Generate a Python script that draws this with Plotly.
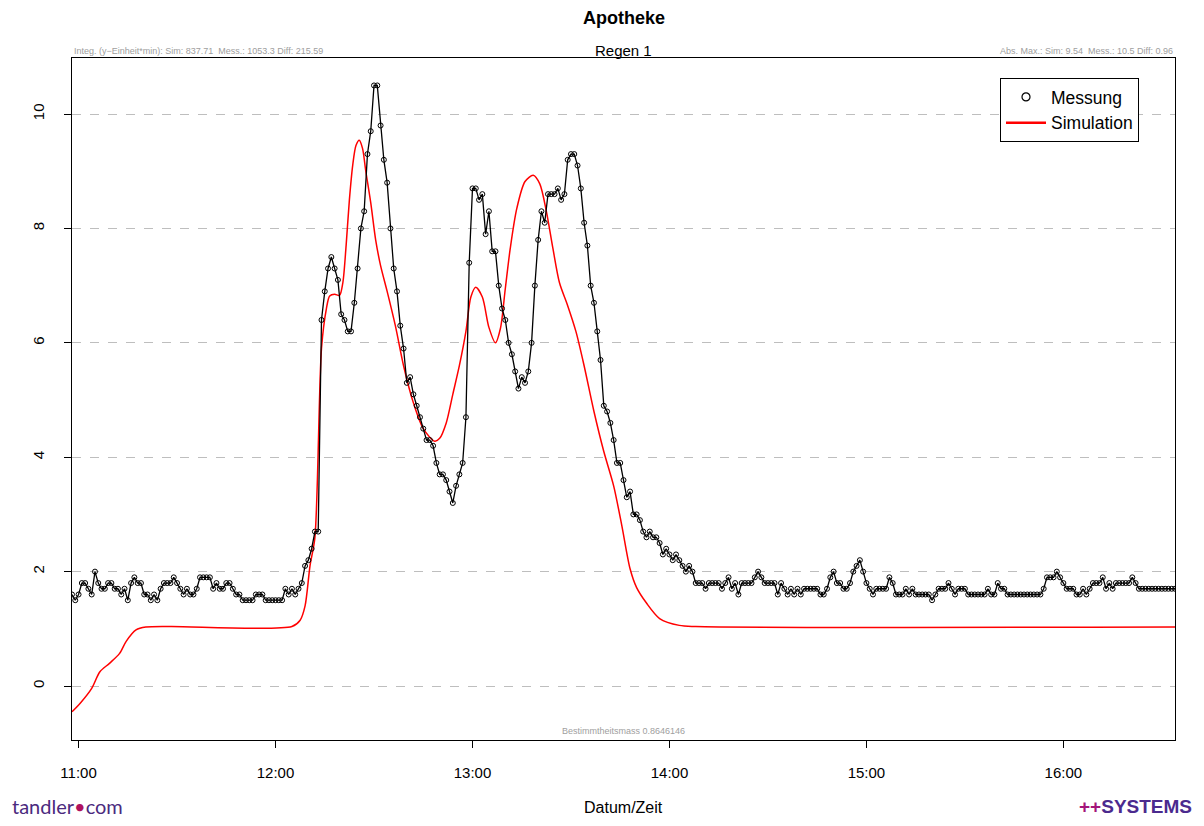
import pandas as pd
import plotly.graph_objects as go

# ---------------- data ----------------
start_time = "2020-01-01 10:58"
end_time = "2020-01-01 16:34"

# Messung: 1-minute values starting at 10:58
mess = [
    # 10:58 - 12:08 (m0-m70)
    1.6, 1.5, 1.6, 1.8, 1.8, 1.7, 1.6, 2.0, 1.8, 1.7,
    1.7, 1.8, 1.8, 1.7, 1.7, 1.6, 1.7, 1.5, 1.8, 1.9,
    1.8, 1.8, 1.6, 1.6, 1.5, 1.6, 1.5, 1.7, 1.8, 1.8,
    1.8, 1.9, 1.8, 1.7, 1.6, 1.7, 1.6, 1.6, 1.7, 1.9,
    1.9, 1.9, 1.9, 1.7, 1.8, 1.7, 1.7, 1.8, 1.8, 1.7,
    1.6, 1.6, 1.5, 1.5, 1.5, 1.5, 1.6, 1.6, 1.6, 1.5,
    1.5, 1.5, 1.5, 1.5, 1.5, 1.7, 1.6, 1.7, 1.6, 1.7,
    1.8,
    # m71-m75
    2.1, 2.2, 2.4, 2.7, 2.7,
    # m76-m101
    6.4, 6.9, 7.3, 7.5, 7.3, 7.1, 6.5, 6.4, 6.2, 6.2,
    6.7, 7.3, 8.0, 8.3, 9.3, 9.7, 10.5, 10.5, 9.8, 9.2,
    8.8, 8.0, 7.3, 6.9, 6.3, 5.9,
    # m102-m120
    5.3, 5.4, 5.1, 4.9, 4.7, 4.5, 4.3, 4.3, 4.2, 3.9,
    3.7, 3.7, 3.6, 3.4, 3.2, 3.5, 3.7, 3.9, 4.7,
    # m121-m172
    7.4, 8.7, 8.7, 8.5, 8.6, 7.9, 8.3, 7.6, 7.6, 7.0,
    6.6, 6.4, 6.0, 5.8, 5.5, 5.2, 5.4, 5.3, 5.5, 6.0,
    7.0, 7.8, 8.3, 8.1, 8.6, 8.6, 8.6, 8.7, 8.5, 8.6,
    9.2, 9.3, 9.3, 9.1, 8.7, 8.1, 7.7, 7.0, 6.7, 6.2,
    5.7, 4.9, 4.8, 4.6, 4.3, 3.9, 3.9, 3.6, 3.3, 3.4,
    3.0, 3.0,
    # m173-m209
    2.9, 2.7, 2.6, 2.7, 2.6, 2.6, 2.5, 2.3, 2.4, 2.3,
    2.2, 2.3, 2.2, 2.1, 2.0, 2.1, 2.0, 1.8, 1.8, 1.8,
    1.7, 1.8, 1.8, 1.8, 1.8, 1.7, 1.8, 1.9, 1.7, 1.8,
    1.6, 1.8, 1.8, 1.8, 1.8, 1.9, 2.0,
    # m210-m264
    1.9, 1.8, 1.8, 1.8, 1.8, 1.6, 1.8, 1.7, 1.6, 1.7,
    1.6, 1.7, 1.6, 1.7, 1.7, 1.7, 1.7, 1.7, 1.6, 1.6,
    1.7, 1.9, 2.0, 1.8, 1.8, 1.7, 1.7, 1.8, 2.0, 2.1,
    2.2, 2.0, 1.8, 1.7, 1.6, 1.7, 1.7, 1.7, 1.7, 1.9,
    1.8, 1.6, 1.6, 1.6, 1.7, 1.6, 1.7, 1.6, 1.6, 1.6,
    1.6, 1.6, 1.5, 1.6, 1.7,
    # m265-m336
    1.7, 1.7, 1.8, 1.7, 1.6, 1.7, 1.7, 1.7, 1.6, 1.6,
    1.6, 1.6, 1.6, 1.6, 1.7, 1.6, 1.6, 1.8, 1.7, 1.7,
    1.6, 1.6, 1.6, 1.6, 1.6, 1.6, 1.6, 1.6, 1.6, 1.6,
    1.6, 1.7, 1.9, 1.9, 1.9, 2.0, 1.9, 1.8, 1.7, 1.7,
    1.7, 1.6, 1.6, 1.7, 1.6, 1.7, 1.8, 1.8, 1.8, 1.9,
    1.7, 1.8, 1.7, 1.8, 1.8, 1.8, 1.8, 1.8, 1.9, 1.8,
    1.7, 1.7, 1.7, 1.7, 1.7, 1.7, 1.7, 1.7, 1.7, 1.7,
    1.7, 1.7,
]

# Simulation: read at key minutes after 10:58
sim_minutes = [0, 2.5, 6, 8.5, 11.5, 14.5, 16.5, 19.5, 22.5, 30, 67, 69.5, 71,
               72.5, 74, 76, 77.5, 78.5, 80, 81.5, 82.5, 83.5, 84.5, 85.5, 86.5,
               87.5, 88.5, 89.5, 91, 92.5, 94, 96, 98.5, 101, 104, 107, 110.5,
               112, 114, 116, 118, 120, 121.5, 123, 125, 127, 129, 130.5, 132,
               133.5, 135.5, 138, 140.5, 142.5, 144.5, 146.5, 148.5, 151, 153.5,
               156, 159, 162, 165, 167.5, 170, 172, 175, 179, 185, 190, 336]
sim_values = [-0.45, -0.30, -0.04, 0.25, 0.40, 0.57, 0.78, 0.98, 1.03, 1.04,
              1.04, 1.15, 1.40, 2.1, 2.6, 5.9, 6.6, 6.82, 6.85, 6.83, 7.05,
              7.7, 8.5, 9.1, 9.45, 9.54, 9.4, 9.0, 8.45, 7.8, 7.35, 6.9, 6.3,
              5.6, 4.95, 4.5, 4.28, 4.33, 4.6, 5.1, 5.6, 6.2, 6.8, 6.97, 6.8,
              6.27, 6.0, 6.25, 6.95, 7.65, 8.35, 8.82, 8.93, 8.78, 8.3, 7.65,
              7.05, 6.65, 6.2, 5.6, 4.8, 4.1, 3.5, 2.8, 2.05, 1.72, 1.45, 1.18,
              1.06, 1.04, 1.03]

y_ticks = [0, 2, 4, 6, 8, 10]
x_tick_labels = ["11:00", "12:00", "13:00", "14:00", "15:00", "16:00"]

title_text = "Apotheke"
subtitle_text = "Regen 1"
integ_text = "Integ. (y\u2212Einheit*min): Sim: 837.71  Mess.: 1053.3 Diff: 215.59"
absmax_text = "Abs. Max.: Sim: 9.54  Mess.: 10.5 Diff: 0.96"
bestimmt_text = "Bestimmtheitsmass 0.8646146"
x_title = "Datum/Zeit"

# ---------------- build ----------------
t0 = pd.Timestamp(start_time)
mess_times = pd.date_range(t0, periods=len(mess), freq="min")
sim_times = [t0 + pd.Timedelta(minutes=m) for m in sim_minutes]
tick_vals = [pd.Timestamp("2020-01-01 " + s) for s in x_tick_labels]

FONT = "Arial, Liberation Sans, sans-serif"

fig = go.Figure()

fig.add_trace(go.Scatter(
    x=sim_times, y=sim_values, mode="lines",
    line=dict(color="#FF0000", width=1.5, shape="spline", smoothing=0.8),
    showlegend=False, hoverinfo="skip"))

fig.add_trace(go.Scatter(
    x=mess_times, y=mess, mode="lines+markers",
    line=dict(color="#000000", width=1.3),
    marker=dict(symbol="circle-open", size=5, color="#000000",
                line=dict(width=1, color="#000000")),
    showlegend=False))

# legend-only entries
fig.add_trace(go.Scatter(
    x=[None], y=[None], mode="markers", name="Messung",
    marker=dict(symbol="circle-open", size=8, color="#000000",
                line=dict(width=1.2, color="#000000"))))
fig.add_trace(go.Scatter(
    x=[None], y=[None], mode="lines", name="Simulation",
    line=dict(color="#FF0000", width=2.5)))

# the page places the figure at an 8px body offset
OFF = 8
W, H = 1204 - 2 * OFF, 826 - 2 * OFF
PL, PR, PT, PB = 72, 1175, 58, 740          # plot area in page pixels
L, T = PL - OFF, PT - OFF
R = W - (PR - OFF)
B = H - (PB - OFF)
pw, ph = PR - PL, PB - PT


def px_x(px):
    return (px - PL) / pw


def px_y(py):
    return (PB - py) / ph


fig.update_layout(
    width=W, height=H,
    margin=dict(l=L, r=R, t=T, b=B),
    paper_bgcolor="white", plot_bgcolor="white",
    font=dict(family=FONT, color="#000000", size=15),
    legend=dict(x=px_x(1000), y=px_y(78), xanchor="left", yanchor="top",
                bordercolor="#000000", borderwidth=1, bgcolor="white",
                font=dict(size=17.5, family=FONT), itemwidth=40,
                tracegroupgap=0),
)

fig.update_xaxes(
    range=[pd.Timestamp(start_time), pd.Timestamp(end_time)],
    tickvals=tick_vals, ticktext=x_tick_labels,
    ticks="outside", ticklen=7, tickcolor="#000000",
    showgrid=False, zeroline=False,
    showline=True, linecolor="#000000", linewidth=1, mirror=True,
    tickfont=dict(size=15, family=FONT),
    ticklabelstandoff=12,
)
fig.update_yaxes(
    range=[-0.944, 10.98],
    tickvals=y_ticks, ticktext=[str(v) for v in y_ticks],
    ticks="outside", ticklen=7, tickcolor="#000000",
    showgrid=True, gridcolor="#BEBEBE", griddash="dash", gridwidth=1,
    zeroline=False,
    showline=True, linecolor="#000000", linewidth=1, mirror=True,
    tickangle=-90, tickfont=dict(size=15, family=FONT),
    ticklabelstandoff=14,
)

ann = [
    dict(text="<b>" + title_text + "</b>", x=0.5, y=px_y(18), font=dict(size=18)),
    dict(text=subtitle_text, x=0.5, y=px_y(50), font=dict(size=15)),
    dict(text=integ_text, x=0, y=px_y(51), xanchor="left",
         font=dict(size=9, color="#A0A0A0")),
    dict(text=absmax_text, x=1, y=px_y(51), xanchor="right",
         font=dict(size=9, color="#A0A0A0")),
    dict(text=bestimmt_text, x=0.5, y=px_y(731),
         font=dict(size=9, color="#A0A0A0")),
    dict(text=x_title, x=0.5, y=px_y(808), font=dict(size=16)),
    dict(text='<span style="color:#4B2A7E">tandler</span>'
              '<span style="color:#B0125E">\u2022</span>'
              '<span style="color:#4B2A7E">com</span>',
         x=px_x(10), y=px_y(806), xanchor="left",
         font=dict(size=20, family="Lato, Open Sans, sans-serif")),
    dict(text='<b><span style="color:#A3157A">++</span>'
              '<span style="color:#4B2A8E">SYSTEMS</span></b>',
         x=px_x(1194), y=px_y(807), xanchor="right",
         font=dict(size=19, family=FONT)),
]
for a in ann:
    a.setdefault("xanchor", "center")
    a.update(xref="paper", yref="paper", yanchor="middle", showarrow=False)
fig.update_layout(annotations=ann)

fig.write_html("out.html")
